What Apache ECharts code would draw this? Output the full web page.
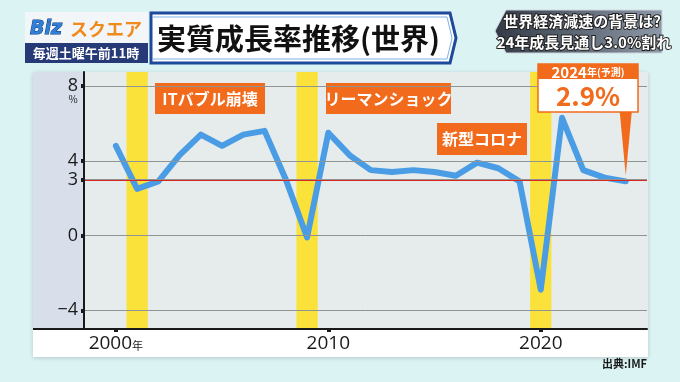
<!DOCTYPE html>
<html><head><meta charset="utf-8">
<script src="https://cdn.jsdelivr.net/npm/echarts@6/dist/echarts.min.js"></script>
<style>html,body{margin:0;padding:0;background:#dcf3f3;}#c{width:680px;height:382px;}</style>
</head><body><div id="c"></div>
<script>
// ---- data ----
const years = [2000,2001,2002,2003,2004,2005,2006,2007,2008,2009,2010,2011,2012,2013,2014,2015,2016,2017,2018,2019,2020,2021,2022,2023,2024];
const growth = [4.8,2.5,2.9,4.3,5.4,4.8,5.4,5.6,3.0,-0.1,5.5,4.3,3.5,3.4,3.5,3.4,3.2,3.9,3.6,2.9,-2.9,6.3,3.5,3.1,2.9];
const yTickValues = [-4,0,3,4,8];
const xTickValues = [2000,2010,2020];
const refValue = 3;
const bandRanges = [[2000.5,2001.5],[2008.5,2009.5],[2019.5,2020.5]];
const eventLabels = ['ITバブル崩壊','リーマンショック','新型コロナ'];
const titleText = '実質成長率推移(世界)';
const subLines = ['世界経済減速の背景は?','24年成長見通し3.0%割れ'];
const forecastYear = '2024年';
const forecastValue = '2.9%';

const FONT = '"Noto Sans CJK JP","Noto Sans",sans-serif';
const NUMFONT = '"Open Sans","Noto Sans",sans-serif';
const chart = echarts.init(document.getElementById('c'), null, {renderer:'canvas'});

const orange = '#f26a1b';
function tag(x, y, w, h, text){
  return {type:'group', x:x, y:y, children:[
    {type:'rect', shape:{x:0,y:0,width:w,height:h}, style:{fill:orange}},
    {type:'text', x:w/2, y:h/2, style:{text:text, fill:'#fff', font:'bold 16px '+FONT, align:'center', verticalAlign:'middle'}}
  ]};
}

const option = {
  backgroundColor: '#dcf3f3',
  animation: false,
  grid: {left:84, right:33, top:72, bottom:53},
  xAxis: {
    type:'value', min:1998.5, max:2025, z:10,
    axisLine:{show:true, onZero:false, lineStyle:{color:'#1a1a1a', width:2}},
    axisTick:{show:true, customValues:xTickValues, length:3, lineStyle:{color:'#1a1a1a', width:4}},
    axisLabel:{customValues:xTickValues, margin:5, color:'#1a1a1a', fontFamily:NUMFONT, fontSize:19,
      formatter: v => v === 2000 ? '{n|2000}{s|年}' : '{n|'+v+'}',
      rich:{n:{fontSize:19, fontFamily:NUMFONT, color:'#1a1a1a'}, s:{fontSize:11, fontFamily:FONT, color:'#1a1a1a', padding:[5,0,0,0]}}},
    splitLine:{show:false}
  },
  yAxis: {
    type:'value', min:-5, max:8.75, z:10,
    axisLine:{show:true, onZero:false, lineStyle:{color:'#1a1a1a', width:2}},
    axisTick:{show:true, customValues:yTickValues, length:3, lineStyle:{color:'#1a1a1a', width:4}},
    axisLabel:{customValues:yTickValues, margin:6, fontFamily:NUMFONT, fontSize:18,
      color: v => (v === refValue ? '#d8251d' : '#1a1a1a'),
      formatter: v => v < 0 ? '−' + Math.abs(v) : String(v)},
    splitLine:{show:true, lineStyle:{color:'#8f9494', width:1}}
  },
  series: [
    {type:'line', data:[], z:1, silent:true,
     markArea:{silent:true, itemStyle:{color:'#fbe23a'}, label:{show:false},
       data: bandRanges.map(b => [{xAxis:b[0]},{xAxis:b[1]}])}},
    {type:'line', data:[], z:2, silent:true,
     markLine:{silent:true, symbol:'none', label:{show:false}, animation:false,
       lineStyle:{color:'#d8251d', width:2, type:'solid'}, data:[{yAxis:refValue}]}},
    {type:'line', z:3, showSymbol:false, smooth:false,
     data: years.map((y,i)=>[y, growth[i]]),
     lineStyle:{color:'#4a9de4', width:6, cap:'round', join:'round'}}
  ],
  graphic: []
};
chart.setOption(option);

const pTip = chart.convertToPixel({gridIndex:0}, [years[years.length-1], growth[growth.length-1]]);

const g = [
  // panel
  {type:'rect', z:-10, shape:{x:33,y:72,width:615,height:285}, style:{fill:'#ffffff', shadowBlur:4, shadowColor:'rgba(0,0,0,0.18)', shadowOffsetY:1}},
  {type:'rect', z:-9, shape:{x:33,y:72,width:51,height:257}, style:{fill:'#d8dfea'}},
  {type:'rect', z:-9, shape:{x:84,y:72,width:564,height:257}, style:{fill:'#e6ebeb'}},
  {type:'line', z:5, shape:{x1:33,y1:329,x2:85,y2:329}, style:{stroke:'#1a1a1a', lineWidth:2}},
  {type:'text', z:5, x:73, y:99, style:{text:'%', font:'10px '+FONT, fill:'#1a1a1a', align:'center', verticalAlign:'middle'}},
  // event tags
  tag(155, 83, 110, 31, eventLabels[0]),
  tag(326, 83, 125, 31, eventLabels[1]),
  tag(437, 123, 90, 32, eventLabels[2]),
  // forecast callout
  {type:'polygon', z:20, shape:{points:[[pTip[0]-6,112],[pTip[0]+6,112],[pTip[0],pTip[1]-6]]}, style:{fill:orange}},
  {type:'rect', z:21, shape:{x:538,y:64,width:100,height:48}, style:{fill:'#fff', stroke:orange, lineWidth:1.5}},
  {type:'rect', z:22, shape:{x:538,y:64,width:100,height:15}, style:{fill:orange}},
  {type:'text', z:23, x:588, y:72, style:{text:'{a|2024}{b|年(予測)}', align:'center', verticalAlign:'middle',
     rich:{a:{font:'bold 15px '+FONT, fill:'#fff'}, b:{font:'bold 10px '+FONT, fill:'#fff'}}}},
  {type:'text', z:23, x:588, y:96, style:{text:forecastValue, font:'bold 26px '+FONT, fill:orange, align:'center', verticalAlign:'middle'}},
  // source
  {type:'text', x:647, y:364, style:{text:'出典:IMF', font:'bold 11px '+FONT, fill:'#1a1a1a', align:'right', verticalAlign:'middle'}},
  // logo
  {type:'rect', shape:{x:25,y:12,width:123,height:31}, style:{fill:'#f3f6f8'}},
  {type:'text', x:30, y:29, style:{text:'{a|Biz}{b|スクエア}', verticalAlign:'middle',
     rich:{a:{font:'bold italic 19px "DejaVu Sans",sans-serif', fill:'#2f7fd8', stroke:'#0d3b7a', lineWidth:1}, b:{font:'bold 18px '+FONT, fill:'#f08a1c', padding:[0,0,0,8]}}}},
  {type:'rect', shape:{x:25,y:43,width:123,height:20}, style:{fill:'#263a78'}},
  {type:'text', x:86, y:53, style:{text:'毎週土曜午前11時', font:'bold 13px '+FONT, fill:'#fff', align:'center', verticalAlign:'middle'}},
  // title banner
  {type:'polygon', shape:{points:[[151,13],[450,13],[456,38],[450,63],[151,63]]}, style:{fill:'#ffffff', stroke:'#1d4a9a', lineWidth:3}},
  {type:'polyline', shape:{points:[[153,17],[447,17],[452,38],[447,59],[153,59]]}, style:{stroke:'#7fb0e6', lineWidth:1, fill:null}},
  {type:'text', x:157, y:39, style:{text:titleText, font:'bold 29px '+FONT, fill:'#111', verticalAlign:'middle'}},
  // right subtitle box
  {type:'polygon', shape:{points:[[506,10],[662,10],[662,53],[506,53],[495,31]]},
     style:{fill:new echarts.graphic.LinearGradient(0,0,1,0,[{offset:0,color:'#333a46'},{offset:1,color:'#8e99a8'}]), stroke:'#cfd6de', lineWidth:1}},
  {type:'text', x:582, y:21, style:{text:subLines[0], font:'bold 15px '+FONT, fill:'#fff', stroke:'#222', lineWidth:2, align:'center', verticalAlign:'middle'}},
  {type:'text', x:584, y:42, style:{text:subLines[1], font:'bold 15px '+FONT, fill:'#fff', stroke:'#222', lineWidth:2, align:'center', verticalAlign:'middle'}}
];
chart.setOption({graphic: g});
</script></body></html>
